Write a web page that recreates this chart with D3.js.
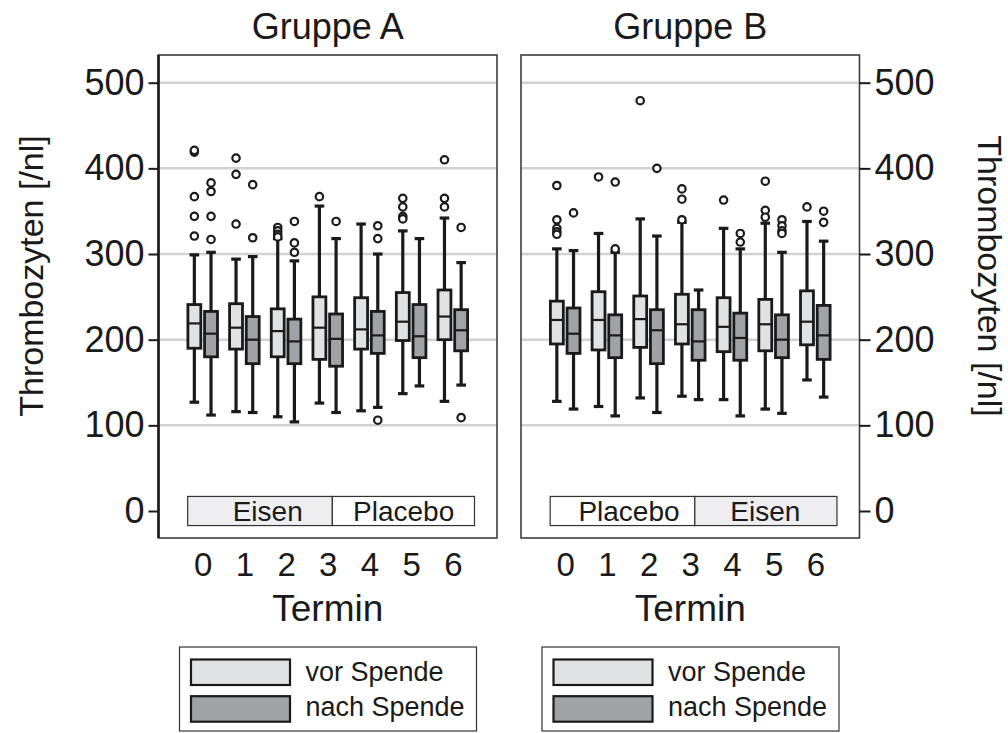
<!DOCTYPE html>
<html>
<head>
<meta charset="utf-8">
<script src="https://cdn.jsdelivr.net/npm/d3@7"></script>
<style>
  html, body { margin: 0; padding: 0; background: #fff; }
  svg { display: block; font-family: "Liberation Sans", Arial, Helvetica, sans-serif; }
</style>
</head>
<body>
<svg id="chart" width="1008" height="733"></svg>
<script>
// Termine (Messzeitpunkte) und Achsenbeschriftung
const termine = [0, 1, 2, 3, 4, 5, 6];
const yTicks = [0, 100, 200, 300, 400, 500];
const gridTicks = [100, 200, 300, 400, 500];

// Boxplot-Kennwerte je Termin: [unterer Whisker, Q1, Median, Q3, oberer Whisker]
const gruppeA_vor = [
  [127, 190, 219, 241, 299],
  [116, 189, 214, 242, 294],
  [110, 180, 210, 236, 318],
  [126, 177, 214, 250, 356],
  [117, 189, 212, 249, 335],
  [137, 199, 221, 255, 327],
  [128, 200, 227, 258, 342]
];
const gruppeA_nach = [
  [112, 180, 207, 233, 302],
  [115, 172, 200, 227, 297],
  [104, 172, 198, 224, 292],
  [115, 169, 201, 230, 318],
  [121, 184, 205, 233, 300],
  [146, 179, 204, 241, 318],
  [147, 187, 211, 235, 290]
];
const gruppeB_vor = [
  [128, 195, 223, 245, 306],
  [122, 188, 223, 256, 324],
  [132, 191, 224, 251, 341],
  [134, 195, 218, 253, 337],
  [130, 186, 215, 249, 330],
  [119, 187, 218, 247, 336],
  [153, 194, 221, 257, 338]
];
const gruppeB_nach = [
  [119, 184, 207, 237, 304],
  [111, 179, 205, 229, 302],
  [115, 172, 211, 235, 321],
  [130, 176, 198, 235, 258],
  [111, 176, 202, 231, 306],
  [114, 179, 200, 229, 302],
  [133, 177, 205, 240, 315]
];

// Ausreißer je Termin
const ausreisserA_vor = [
  [419, 421, 367, 344, 321],
  [412, 393, 335],
  [331, 327, 323, 320],
  [367],
  [],
  [365, 355, 344, 341],
  [410, 365, 355]
];
const ausreisserA_nach = [
  [383, 373, 344, 317],
  [381, 319],
  [338, 313, 302],
  [338],
  [333, 318, 106],
  [],
  [331, 109]
];
const ausreisserB_vor = [
  [380, 340, 330, 326, 323],
  [390],
  [479],
  [376, 364, 340],
  [363],
  [385, 351, 343],
  [355]
];
const ausreisserB_nach = [
  [348],
  [384, 306],
  [400],
  [],
  [324, 314],
  [340, 333, 327, 324],
  [350, 337]
];

// Behandlungsphasen (Termin-Bereich, Beschriftung, Position der Beschriftung)
const phasenA = [
  { von: -0.36, bis: 3.11, text: "Eisen", mitte: 1.56, grau: true },
  { von: 3.11, bis: 6.52, text: "Placebo", mitte: 4.82, grau: false }
];
const phasenB = [
  { von: -0.36, bis: 3.11, text: "Placebo", mitte: 1.53, grau: false },
  { von: 3.11, bis: 6.52, text: "Eisen", mitte: 4.80, grau: true }
];

const legendeText = ["vor Spende", "nach Spende"];

// ---- Layout ----
const FILL_VOR = "#e1e2e4";
const FILL_NACH = "#a0a2a6";
const INK = "#1a1a1a";
const GRID = "#d2d2d6";
const FRAME = "#3c3c3c";

const svg = d3.select("#chart");
const panelTop = 55, panelBottom = 538;
const y = d3.scaleLinear().domain([0, 500]).range([511, 82.7]);

const panels = [
  { title: "Gruppe A", left: 158.5, right: 497, vor: gruppeA_vor, nach: gruppeA_nach,
    outVor: ausreisserA_vor, outNach: ausreisserA_nach, phasen: phasenA, axis: "left" },
  { title: "Gruppe B", left: 521, right: 859.5, vor: gruppeB_vor, nach: gruppeB_nach,
    outVor: ausreisserB_vor, outNach: ausreisserB_nach, phasen: phasenB, axis: "right" }
];

const boxOffset = 0.2;   // Abstand Boxmitte zur Terminmitte (in Termin-Einheiten)
const boxWidth = 0.31;   // Boxbreite (in Termin-Einheiten)

panels.forEach(p => {
  const x = d3.scaleLinear().domain([-1.06, 7.06]).range([p.left, p.right]);
  const g = svg.append("g");
  const unit = x(1) - x(0);

  // Gitterlinien
  g.selectAll("line.grid").data(gridTicks).join("line")
    .attr("x1", p.left).attr("x2", p.right)
    .attr("y1", d => y(d)).attr("y2", d => y(d))
    .attr("stroke", GRID).attr("stroke-width", 2.5);

  // Rahmen
  g.append("rect")
    .attr("x", p.left).attr("y", panelTop)
    .attr("width", p.right - p.left).attr("height", panelBottom - panelTop)
    .attr("fill", "none").attr("stroke", FRAME).attr("stroke-width", 1.6);

  // Titel
  svg.append("text")
    .attr("x", (p.left + p.right) / 2).attr("y", 39)
    .attr("text-anchor", "middle").attr("font-size", 36).attr("fill", INK)
    .text(p.title);

  // Behandlungsphasen-Leiste
  const band = g.append("g");
  band.selectAll("rect").data(p.phasen).join("rect")
    .attr("x", d => x(d.von)).attr("width", d => x(d.bis) - x(d.von))
    .attr("y", y(17)).attr("height", y(-17) - y(17))
    .attr("fill", d => d.grau ? "#eeeef0" : "#ffffff")
    .attr("stroke", "#333").attr("stroke-width", 1.2);
  band.selectAll("text").data(p.phasen).join("text")
    .attr("x", d => x(d.mitte)).attr("y", y(0))
    .attr("dy", "0.36em")
    .attr("text-anchor", "middle").attr("font-size", 28).attr("fill", INK)
    .text(d => d.text);

  // Boxplots
  const series = [
    { stats: p.vor, out: p.outVor, fill: FILL_VOR, shift: -boxOffset },
    { stats: p.nach, out: p.outNach, fill: FILL_NACH, shift: boxOffset }
  ];
  series.forEach(s => {
    const bw = boxWidth * unit;
    const grp = g.append("g").selectAll("g").data(s.stats).join("g");
    const cx = (d, i) => x(termine[i] + s.shift);
    // Whisker
    grp.append("line")
      .attr("x1", cx).attr("x2", cx)
      .attr("y1", d => y(d[0])).attr("y2", d => y(d[4]))
      .attr("stroke", INK).attr("stroke-width", 3.2);
    grp.append("line")
      .attr("x1", (d, i) => cx(d, i) - 4.8).attr("x2", (d, i) => cx(d, i) + 4.8)
      .attr("y1", d => y(d[0])).attr("y2", d => y(d[0]))
      .attr("stroke", INK).attr("stroke-width", 3.2);
    grp.append("line")
      .attr("x1", (d, i) => cx(d, i) - 4.8).attr("x2", (d, i) => cx(d, i) + 4.8)
      .attr("y1", d => y(d[4])).attr("y2", d => y(d[4]))
      .attr("stroke", INK).attr("stroke-width", 3.2);
    // Box
    grp.append("rect")
      .attr("x", (d, i) => cx(d, i) - bw / 2).attr("width", bw)
      .attr("y", d => y(d[3])).attr("height", d => y(d[1]) - y(d[3]))
      .attr("fill", s.fill).attr("stroke", INK).attr("stroke-width", 2.8);
    // Median
    grp.append("line")
      .attr("x1", (d, i) => cx(d, i) - bw / 2).attr("x2", (d, i) => cx(d, i) + bw / 2)
      .attr("y1", d => y(d[2])).attr("y2", d => y(d[2]))
      .attr("stroke", INK).attr("stroke-width", 2.2);
    // Ausreißer
    const pts = [];
    s.out.forEach((arr, i) => arr.forEach(v => pts.push({ t: termine[i], v })));
    g.append("g").selectAll("circle").data(pts).join("circle")
      .attr("cx", d => x(d.t + s.shift)).attr("cy", d => y(d.v))
      .attr("r", 3.7).attr("fill", "#fff")
      .attr("stroke", INK).attr("stroke-width", 2.2);
  });

  // x-Achse (Termine)
  const xAxis = d3.axisBottom(x).tickValues(termine).tickSize(0).tickPadding(0).tickFormat(d3.format("d"));
  const xa = svg.append("g").attr("transform", `translate(0,576)`).call(xAxis);
  xa.select(".domain").remove();
  xa.selectAll("text").attr("dy", 0).attr("y", 0)
    .attr("font-size", 33).attr("fill", INK).attr("font-family", null);

  svg.append("text")
    .attr("x", (p.left + p.right) / 2).attr("y", 621)
    .attr("text-anchor", "middle").attr("font-size", 37).attr("fill", INK)
    .text("Termin");

  // y-Achse
  const yAxisGen = p.axis === "left"
    ? d3.axisLeft(y).tickValues(yTicks).tickSize(10).tickPadding(4)
    : d3.axisRight(y).tickValues(yTicks).tickSize(11).tickPadding(4);
  const ya = svg.append("g")
    .attr("transform", `translate(${p.axis === "left" ? p.left : p.right},0)`)
    .call(yAxisGen);
  ya.select(".domain").remove();
  ya.selectAll(".tick line").attr("stroke", INK).attr("stroke-width", 2);
  ya.selectAll("text").attr("font-size", 36).attr("fill", INK).attr("font-family", null);
  if (p.axis === "left") {
    svg.append("line")
      .attr("x1", p.left).attr("x2", p.left)
      .attr("y1", panelTop).attr("y2", panelBottom)
      .attr("stroke", INK).attr("stroke-width", 2.6);
  }

  // Legende
  const lx = p.left + 21;
  const leg = svg.append("g");
  leg.append("rect")
    .attr("x", lx).attr("y", 647).attr("width", 297).attr("height", 84)
    .attr("fill", "#fff").attr("stroke", "#333").attr("stroke-width", 1.2);
  leg.selectAll("rect.sw").data(legendeText).join("rect")
    .attr("class", "sw")
    .attr("x", lx + 11.5).attr("y", (d, i) => 659.5 + i * 36.7)
    .attr("width", 99).attr("height", 25.5)
    .attr("fill", (d, i) => i === 0 ? FILL_VOR : FILL_NACH)
    .attr("stroke", INK).attr("stroke-width", 2.2);
  leg.selectAll("text").data(legendeText).join("text")
    .attr("x", lx + 126).attr("y", (d, i) => 680.5 + i * 35.5)
    .attr("font-size", 27).attr("fill", INK)
    .text(d => d);
});

// y-Achsentitel links und rechts
svg.append("text")
  .attr("transform", "translate(43,276) rotate(-90)")
  .attr("text-anchor", "middle").attr("font-size", 34).attr("fill", INK)
  .text("Thrombozyten [/nl]");
svg.append("text")
  .attr("transform", "translate(978,276) rotate(90)")
  .attr("text-anchor", "middle").attr("font-size", 34).attr("fill", INK)
  .text("Thrombozyten [/nl]");
</script>
</body>
</html>
